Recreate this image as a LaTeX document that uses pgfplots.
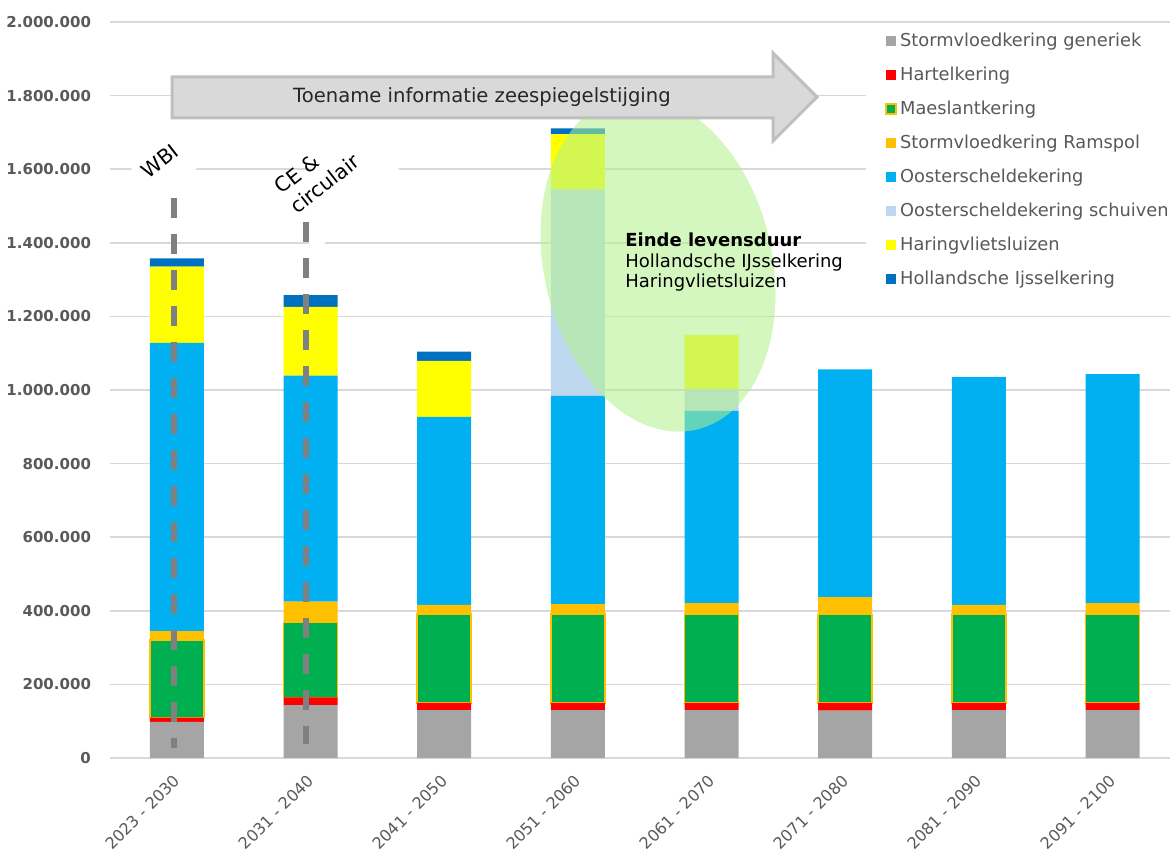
\documentclass[border=0pt]{standalone}
\usepackage{fontspec}
\setmainfont{DejaVu Sans}
\usepackage{pgfplots}
\usepackage{pgfplotstable}
\pgfplotsset{compat=1.18}
\definecolor{cgray}{HTML}{A5A5A5}
\definecolor{cred}{HTML}{FF0000}
\definecolor{cgreen}{HTML}{00B050}
\definecolor{corange}{HTML}{FFC000}
\definecolor{cblue}{HTML}{00B0F0}
\definecolor{clblue}{HTML}{BDD7EE}
\definecolor{cyellow}{HTML}{FFFF00}
\definecolor{cdblue}{HTML}{0070C0}
\definecolor{gridgray}{HTML}{D9D9D9}
\definecolor{ticktext}{HTML}{595959}
\definecolor{arrowfill}{HTML}{D9D9D9}
\definecolor{arrowdraw}{HTML}{BFBFBF}
\definecolor{dashgray}{HTML}{808080}
\definecolor{ellgreen}{RGB}{178,241,143}

\pgfplotstableread{
x gray red green orange blue lblue yellow dblue
0 98000 12000 210000 25000 783000 0 207000 23000
1 144000 21000 203000 57000 614000 0 187000 32000
2 130000 20000 241000 25000 511000 0 152000 25000
3 130000 20000 241000 27000 566000 561000 150000 16000
4 130000 20000 241000 30000 522000 60000 147000 0
5 129000 21000 240000 47000 619000 0 0 0
6 130000 20000 241000 25000 620000 0 0 0
7 130000 20000 241000 30000 622000 0 0 0
}\data

\begin{document}
\begin{tikzpicture}
\path[use as bounding box] (0,0) rectangle (585pt,426pt);
\begin{axis}[
  at={(55pt,47pt)}, anchor=south west,
  scale only axis, width=530pt, height=368pt,
  xmin=-0.5, xmax=7.43, ymin=0, ymax=2000000,
  ybar stacked, bar width=27pt,
  xtick={0,...,7},
  xticklabels={2023 - 2030,2031 - 2040,2041 - 2050,2051 - 2060,2061 - 2070,2071 - 2080,2081 - 2090,2091 - 2100},
  ytick={0,200000,...,2000000},
  scaled y ticks=false,
  /pgf/number format/assume math mode=true,
  /pgf/number format/1000 sep={.},
  yticklabel style={/pgf/number format/fixed, /pgf/number format/precision=0,
     font=\bfseries\fontsize{7.5}{9}\selectfont, text=ticktext, xshift=-6pt},
  xticklabel style={xshift=0.2pt, yshift=-9.8pt, rotate=45, anchor=east, font=\fontsize{8}{10}\selectfont, text=ticktext, inner sep=0pt},
  ymajorgrids, grid style={color=gridgray, line width=0.75pt},
  axis line style={draw=none},
  tick style={draw=none},
  legend style={at={(0.7132,0.9986)}, anchor=north west, draw=none, fill=white,
     font=\fontsize{8.9}{10}\selectfont, text=ticktext,
     inner xsep=9.5pt, inner ysep=4.3pt, row sep=8pt,
     nodes={inner sep=0pt, text height=7pt, text depth=2pt}},
  legend cell align=left,
  legend image code/.code={\path[#1] (0pt,-2.5pt) rectangle (5pt,2.5pt); \path[draw=none, fill=none] (0pt,0pt) -- (7pt,0pt);},
]
\addplot[fill=cgray, draw=none] table[x=x, y=gray] {\data};
\addlegendentry{Stormvloedkering generiek}
\addplot[fill=cred, draw=none] table[x=x, y=red] {\data};
\addlegendentry{Hartelkering}
\addplot[fill=cgreen, draw=corange, line width=0.75pt] table[x=x, y=green] {\data};
\addlegendentry{Maeslantkering}
\addplot[fill=corange, draw=none] table[x=x, y=orange] {\data};
\addlegendentry{Stormvloedkering Ramspol}
\addplot[fill=cblue, draw=none] table[x=x, y=blue] {\data};
\addlegendentry{Oosterscheldekering}
\addplot[fill=clblue, draw=none] table[x=x, y=lblue] {\data};
\addlegendentry{Oosterscheldekering schuiven}
\addplot[fill=cyellow, draw=none] table[x=x, y=yellow] {\data};
\addlegendentry{Haringvlietsluizen}
\addplot[fill=cdblue, draw=none] table[x=x, y=dblue] {\data};
\addlegendentry{Hollandsche Ijsselkering}
\end{axis}
\begin{scope}[shift={(0pt,426pt)}, x=0.5pt, y=-0.5pt]
  \fill[ellgreen, fill opacity=0.56] (658,264) circle [x radius=57pt, y radius=85pt, rotate=13];
  \filldraw[fill=arrowfill, draw=arrowdraw, line width=1.5pt, line join=miter]
    (172,77) -- (773,77) -- (773,53) -- (817,97) -- (773,141) -- (773,118) -- (172,118) -- cycle;
  \node[font=\fontsize{9.8}{12}\selectfont, text=black!85] at (482,97) {Toename informatie zeespiegelstijging};
  \node[fill=white, rotate=38, minimum width=40pt, minimum height=20pt] at (175,160) {};
  \node[rotate=38, font=\fontsize{10.2}{12}\selectfont, inner sep=0pt] at (160,161) {WBI};
  \node[fill=white, rotate=38, minimum width=58pt, minimum height=34pt] at (340,188) {};
  \node[rotate=38, align=left, font=\fontsize{10.2}{12.5}\selectfont, inner sep=0pt] at (317,174) {CE \&\\circulair};
  \draw[dashgray, line width=2.7pt, dash pattern=on 10pt off 8pt] (174,198) -- (174,748);
  \draw[dashgray, line width=2.7pt, dash pattern=on 10pt off 8pt] (306,222) -- (306,744);
  \node[anchor=base west, font=\bfseries\fontsize{9}{11}\selectfont, inner sep=0pt] at (625,247) {Einde levensduur};
  \node[anchor=base west, font=\fontsize{9}{11}\selectfont, inner sep=0pt] at (625,268) {Hollandsche IJsselkering};
  \node[anchor=base west, font=\fontsize{9}{11}\selectfont, inner sep=0pt] at (625,288) {Haringvlietsluizen};
\end{scope}
\end{tikzpicture}
\end{document}
